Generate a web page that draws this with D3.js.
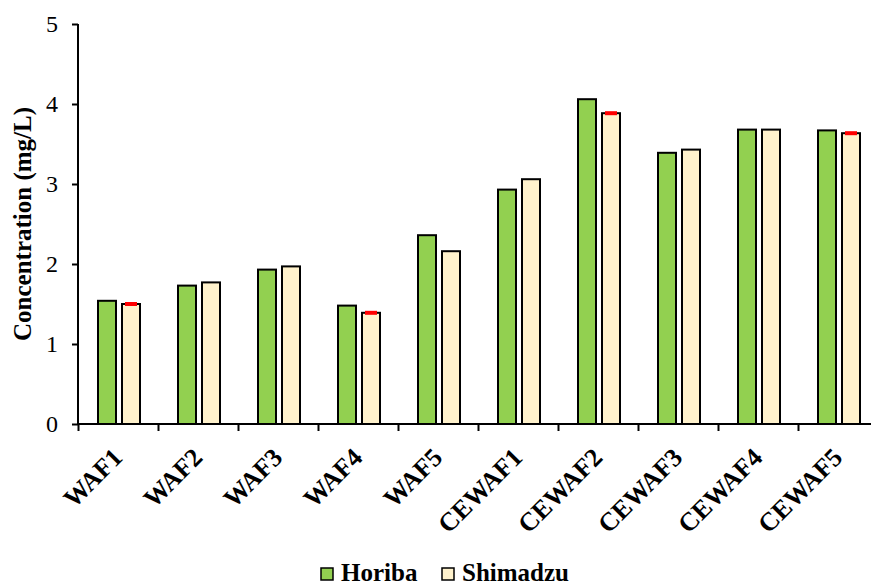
<!DOCTYPE html>
<html lang="en">
<head>
<meta charset="utf-8">
<title>Concentration chart</title>
<script src="https://cdn.jsdelivr.net/npm/d3@7"></script>
<style>
  body { margin: 0; background: #fff; }
  text { font-family: "Liberation Serif", "Times New Roman", serif; fill: #000; }
</style>
</head>
<body>
<script>
// data
var categories = ["WAF1","WAF2","WAF3","WAF4","WAF5","CEWAF1","CEWAF2","CEWAF3","CEWAF4","CEWAF5"];
var series = ["Horiba","Shimadzu"];
var horiba   = [1.54, 1.73, 1.93, 1.48, 2.36, 2.93, 4.06, 3.39, 3.68, 3.67];
var shimadzu = [1.50, 1.77, 1.97, 1.39, 2.16, 3.06, 3.885, 3.43, 3.68, 3.635];
var shimadzuErr = [0.025, 0, 0, 0.025, 0, 0, 0.025, 0, 0, 0.025];
var yTicks = [0, 1, 2, 3, 4, 5];
var colors = {"Horiba": "#92D050", "Shimadzu": "#FFF2CC"};

var w = 871, h = 585;
var pLeft = 78, pRight = 878, pTop = 24, pBottom = 424;

var svg = d3.select("body").append("svg")
  .attr("width", w)
  .attr("height", h);

var y = d3.scaleLinear().domain([0, 5]).range([pBottom, pTop]);
var x0 = d3.scaleBand().domain(categories).range([pLeft, pRight]);
var x1 = d3.scaleBand().domain(series).range([20, 62]).paddingInner(0.25);
var xEdge = d3.scaleLinear().domain([0, categories.length]).range([pLeft, pRight]);

var rows = categories.map(function(c, i) {
  return {cat: c, vals: [
    {s: "Horiba", v: horiba[i], e: 0},
    {s: "Shimadzu", v: shimadzu[i], e: shimadzuErr[i]}
  ]};
});

// bars
var groups = svg.selectAll("g.cat")
  .data(rows)
  .enter()
  .append("g")
  .attr("class", "cat")
  .attr("transform", function(d) { return "translate(" + x0(d.cat) + ",0)"; });

groups.selectAll("rect.bar")
  .data(function(d) { return d.vals; })
  .enter()
  .append("rect")
  .attr("class", "bar")
  .attr("x", function(d) { return x1(d.s); })
  .attr("y", function(d) { return y(d.v); })
  .attr("width", x1.bandwidth())
  .attr("height", function(d) { return y(0) - y(d.v); })
  .attr("fill", function(d) { return colors[d.s]; })
  .attr("stroke", "#000")
  .attr("stroke-width", 2);

// small red error marks
groups.selectAll("rect.err")
  .data(function(d) { return d.vals.filter(function(v) { return v.e > 0; }); })
  .enter()
  .append("rect")
  .attr("class", "err")
  .attr("x", function(d) { return x1(d.s) + x1.bandwidth() / 2 - 6; })
  .attr("y", function(d) { return y(d.v + d.e); })
  .attr("width", 12)
  .attr("height", function(d) { return y(d.v - d.e) - y(d.v + d.e); })
  .attr("fill", "#FF0000");

// y axis
var yAxis = svg.append("g")
  .attr("transform", "translate(" + pLeft + ",0)")
  .call(d3.axisLeft(y).tickValues(yTicks).tickSize(6).tickPadding(14).tickFormat(d3.format("d")));
yAxis.select(".domain").attr("stroke", "#000").attr("stroke-width", 2).attr("d", "M0," + pTop + "V" + pBottom);
yAxis.selectAll(".tick line").attr("stroke", "#000").attr("stroke-width", 2);
yAxis.selectAll(".tick text")
  .style("font-family", "'Liberation Serif', serif")
  .style("font-size", "24px")
  .attr("fill", "#000");

// x axis (ticks between categories)
var xAxis = svg.append("g")
  .attr("transform", "translate(0," + pBottom + ")")
  .call(d3.axisBottom(xEdge).tickValues(d3.range(categories.length + 1)).tickSize(7).tickFormat(""));
xAxis.select(".domain").attr("stroke", "#000").attr("stroke-width", 2).attr("d", "M" + pLeft + ",0H" + pRight);
xAxis.selectAll(".tick line").attr("stroke", "#000").attr("stroke-width", 2);

// category labels
svg.selectAll("text.cat")
  .data(categories)
  .enter()
  .append("text")
  .attr("class", "cat")
  .attr("transform", function(d) {
    return "translate(" + (x0(d) + x0.bandwidth() / 2 + 6) + "," + (pBottom + 35) + ") rotate(-45)";
  })
  .attr("text-anchor", "end")
  .attr("font-size", "26px")
  .attr("font-weight", "bold")
  .text(function(d) { return d; });

// y title
svg.append("text")
  .attr("transform", "translate(31," + ((pTop + pBottom) / 2) + ") rotate(-90)")
  .attr("text-anchor", "middle")
  .attr("font-size", "25px")
  .attr("font-weight", "bold")
  .text("Concentration (mg/L)");

// legend
var legend = svg.selectAll("g.leg")
  .data(series)
  .enter()
  .append("g")
  .attr("class", "leg")
  .attr("transform", function(d, i) { return "translate(" + (321 + i * 121) + ",568)"; });
legend.append("rect")
  .attr("width", 12)
  .attr("height", 12)
  .attr("fill", function(d) { return colors[d]; })
  .attr("stroke", "#000")
  .attr("stroke-width", 1.5);
legend.append("text")
  .attr("x", 20)
  .attr("y", 13)
  .attr("font-size", "25px")
  .attr("font-weight", "bold")
  .text(function(d) { return d; });
</script>
</body>
</html>
